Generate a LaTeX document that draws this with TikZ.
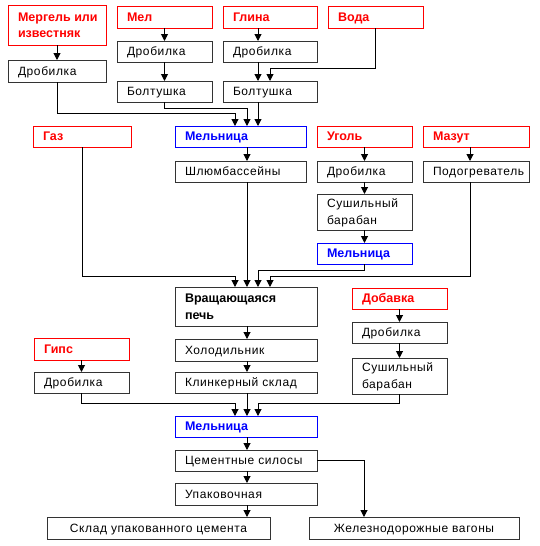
\documentclass[tikz,border=0pt]{standalone}
\usepackage{fontspec}
\setmainfont{Liberation Sans}
\newfontfamily\nrm[LetterSpace=5]{Liberation Sans}
\usetikzlibrary{arrows.meta}
\newcommand\bstr{\rule[-3pt]{0pt}{14.6pt}}
% name, x1, y1, x2, y2, kind, text
\newcommand\bx[7]{%
  \pgfmathsetmacro\bxw{#4-#2}%
  \pgfmathsetmacro\bxh{#5-#3}%
  \node[fr#6, minimum width=\bxw pt, minimum height=\bxh pt] (#1) at ({(#2+#4)/2},{(#3+#5)/2}) {};
  \node[tx#6, anchor=west] (#1-t) at ([xshift=10pt]#1.west) {\bstr#7};}
\newcommand\bxc[6]{%
  \pgfmathsetmacro\bxw{#4-#2}%
  \pgfmathsetmacro\bxh{#5-#3}%
  \node[frn, minimum width=\bxw pt, minimum height=\bxh pt] (#1) at ({(#2+#4)/2},{(#3+#5)/2}) {};
  \node[txn, anchor=center] (#1-t) at (#1.center) {\bstr#6};}
\begin{document}
\begin{tikzpicture}[x=1pt,y=-1pt,
  frame/.style={rectangle, line width=1pt, fill=white, inner sep=0pt, outer sep=0pt},
  frn/.style={frame, draw=black!80},
  frk/.style={frame, draw=black!80},
  frr/.style={frame, draw=red},
  frb/.style={frame, draw=blue},
  lbl/.style={inner sep=0pt, outer sep=0pt, align=left},
  txn/.style={lbl, font=\nrm\fontsize{12}{17}\selectfont},
  txk/.style={lbl, font=\fontsize{12.5}{17}\selectfont\bfseries},
  txr/.style={lbl, text=red, font=\fontsize{12.5}{16}\selectfont\bfseries},
  txb/.style={lbl, text=blue, font=\fontsize{12.5}{16}\selectfont\bfseries},
  arr/.style={line width=1pt, -{Triangle[length=7pt,width=7pt]}}]
\useasboundingbox (0,0) rectangle (539,546);
\fill[white] (0,0) rectangle (539,546);
% column coordinates
\coordinate (xA) at (235,0);
\coordinate (xB) at (247,0);
\coordinate (xC) at (258,0);
\coordinate (xD) at (270,0);
\coordinate (xM) at (470,0);
\coordinate (xV) at (364,0);
% row 1
\bx{merg}{8}{5}{106}{45}{r}{Мергель или\\\bstr известняк}
\bx{mel}{117}{6}{212}{28}{r}{Мел}
\bx{glina}{223}{6}{317}{28}{r}{Глина}
\bx{voda}{328}{6}{423}{28}{r}{Вода}
% row 2,3
\bx{drobL}{8}{60}{106}{82}{n}{Дробилка}
\bx{drobM}{117}{41}{212}{62}{n}{Дробилка}
\bx{drobG}{223}{41}{317}{62}{n}{Дробилка}
\bx{boltM}{117}{81}{212}{102}{n}{Болтушка}
\bx{boltG}{223}{81}{317}{102}{n}{Болтушка}
% row 4
\bx{gaz}{33}{126}{131}{147}{r}{Газ}
\bx{mill1}{175}{126}{306}{147}{b}{Мельница}
\bx{ugol}{317}{126}{412}{147}{r}{Уголь}
\bx{mazut}{423}{126}{529}{147}{r}{Мазут}
\bx{shlam}{175}{161}{306}{182}{n}{Шлюмбассейны}
\bx{drobU}{317}{161}{412}{182}{n}{Дробилка}
\bx{podog}{423}{161}{529}{182}{n}{Подогреватель}
\bx{sushU}{317}{194}{412}{230}{n}{Сушильный\\\bstr барабан}
\bx{mill2}{317}{243}{412}{264}{b}{Мельница}
% kiln etc
\bx{pech}{175}{287}{317}{326}{k}{Вращающаяся\\\bstr печь}
\bx{dobavka}{352}{288}{447}{309}{r}{Добавка}
\bx{drobD}{352}{322}{447}{343}{n}{Дробилка}
\bx{sushD}{352}{358}{447}{394}{n}{Сушильный\\\bstr барабан}
\bx{holod}{175}{339}{317}{361}{n}{Холодильник}
\bx{klink}{175}{372}{317}{393}{n}{Клинкерный склад}
\bx{gips}{34}{338}{129}{360}{r}{Гипс}
\bx{drobGp}{34}{372}{129}{393}{n}{Дробилка}
\bx{mill3}{175}{416}{317}{437}{b}{Мельница}
\bx{silos}{175}{450}{317}{471}{n}{Цементные силосы}
\bx{upak}{175}{483}{317}{505}{n}{Упаковочная}
\bxc{sklad}{47}{517}{270}{539}{Склад упакованного цемента}
\bxc{vagon}{309}{517}{519}{539}{Железнодорожные вагоны}
% connectors top
\draw[arr] (merg.south -| drobL.north) -- (drobL.north);
\draw[arr] (mel) -- (drobM);
\draw[arr] (drobM) -- (boltM);
\draw[arr] (glina.south -| xC) -- (drobG.north -| xC);
\draw[arr] (drobG.south -| xC) -- (boltG.north -| xC);
\draw[arr] (voda.south) |- (xD |- 0,68) -- (boltG.north -| xD);
\draw[arr] (drobL.south) |- (xA |- 0,113) -- (mill1.north -| xA);
\draw[arr] (boltM.south) |- (xB |- 0,108) -- (mill1.north -| xB);
\draw[arr] (boltG.south -| xC) -- (mill1.north -| xC);
\draw[arr] (mill1.south -| xB) -- (shlam.north -| xB);
\draw[arr] (ugol) -- (drobU);
\draw[arr] (drobU) -- (sushU);
\draw[arr] (sushU) -- (mill2);
\draw[arr] (mazut.south -| xM) -- (podog.north -| xM);
% into kiln
\draw[arr] (gaz.south) |- (xA |- 0,276) -- (pech.north -| xA);
\draw[arr] (shlam.south -| xB) -- (pech.north -| xB);
\draw[arr] (mill2.south) |- (xC |- 0,270) -- (pech.north -| xC);
\draw[arr] (podog.south -| xM) |- (xD |- 0,276) -- (pech.north -| xD);
% column
\draw[arr] (pech.south -| xB) -- (holod.north -| xB);
\draw[arr] (holod.south -| xB) -- (klink.north -| xB);
\draw[arr] (gips) -- (drobGp);
\draw[arr] (dobavka) -- (drobD);
\draw[arr] (drobD) -- (sushD);
\draw[arr] (drobGp.south) |- (xA |- 0,403) -- (mill3.north -| xA);
\draw[arr] (klink.south -| xB) -- (mill3.north -| xB);
\draw[arr] (sushD.south) |- (xC |- 0,403) -- (mill3.north -| xC);
\draw[arr] (mill3.south -| xB) -- (silos.north -| xB);
\draw[arr] (silos.south -| xB) -- (upak.north -| xB);
\draw[arr] (upak.south -| xB) -- (sklad.north -| xB);
\draw[arr] (silos.east) -| (vagon.north -| xV);
\end{tikzpicture}
\end{document}
